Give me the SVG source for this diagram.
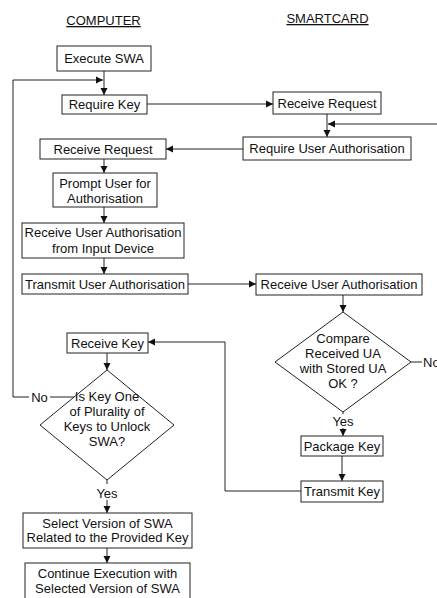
<svg xmlns="http://www.w3.org/2000/svg" width="437" height="598" viewBox="0 0 437 598">
<style>
text{font-family:"Liberation Sans",Arial,sans-serif;font-size:13px;fill:#111;text-anchor:middle}
.box{fill:#fff;stroke:#222;stroke-width:1}
.ln{fill:none;stroke:#222;stroke-width:1}
.hd{text-decoration:underline}
</style>
<defs>
<marker id="ah" markerWidth="8" markerHeight="8" refX="7" refY="4" orient="auto" markerUnits="userSpaceOnUse">
<path d="M0,0.5 L7,4 L0,7.5 z" fill="#111"/>
</marker>
</defs>
<rect width="437" height="598" fill="#fff"/>
<g id="headers">
<text x="103.5" y="25" class="hd">COMPUTER</text>
<text x="327.5" y="23" class="hd">SMARTCARD</text>
</g>
<g id="connectors">
<path class="ln" d="M104,71 V95" marker-end="url(#ah)"/>
<path class="ln" d="M74,397 H50"/>
<path class="ln" d="M29,397 H13 V80 H103" marker-end="url(#ah)"/>
<path class="ln" d="M147,104 H273" marker-end="url(#ah)"/>
<path class="ln" d="M327,114 V137" marker-end="url(#ah)"/>
<path class="ln" d="M437,124 H328" marker-end="url(#ah)"/>
<path class="ln" d="M243,149 H166" marker-end="url(#ah)"/>
<path class="ln" d="M104,159 V173" marker-end="url(#ah)"/>
<path class="ln" d="M104,207 V223" marker-end="url(#ah)"/>
<path class="ln" d="M104,258 V274" marker-end="url(#ah)"/>
<path class="ln" d="M188,284 H256" marker-end="url(#ah)"/>
<path class="ln" d="M343,295 V312" marker-end="url(#ah)"/>
<path class="ln" d="M411,362 H422"/>
<path class="ln" d="M343,412 V414"/>
<path class="ln" d="M343,428 V436" marker-end="url(#ah)"/>
<path class="ln" d="M342,456 V481" marker-end="url(#ah)"/>
<path class="ln" d="M301,491 H225 V342 H148" marker-end="url(#ah)"/>
<path class="ln" d="M107,353 V370" marker-end="url(#ah)"/>
<path class="ln" d="M107,480 V484"/>
<path class="ln" d="M107,500 V513" marker-end="url(#ah)"/>
<path class="ln" d="M107,548 V563" marker-end="url(#ah)"/>
<text x="39.5" y="401.5">No</text>
<text x="423" y="366.5" style="text-anchor:start">No</text>
<text x="343" y="425.5">Yes</text>
<text x="107" y="497.5">Yes</text>
</g>
<g id="execute-swa"><rect class="box" x="57" y="46" width="94" height="25"/><text x="104" y="63">Execute SWA</text></g>
<g id="require-key"><rect class="box" x="62" y="95" width="85" height="19"/><text x="104.5" y="109">Require Key</text></g>
<g id="receive-request-sc"><rect class="box" x="273" y="92" width="108" height="22"/><text x="327" y="107.5">Receive Request</text></g>
<g id="require-user-auth"><rect class="box" x="243" y="137" width="168" height="23"/><text x="327" y="153">Require User Authorisation</text></g>
<g id="receive-request-pc"><rect class="box" x="40" y="139" width="126" height="20"/><text x="103" y="153.5">Receive Request</text></g>
<g id="prompt-user"><rect class="box" x="53" y="173" width="104" height="34"/><text x="105" y="187.5">Prompt User for</text><text x="105" y="202.5">Authorisation</text></g>
<g id="receive-ua-input"><rect class="box" x="22" y="223" width="162" height="35"/><text x="103" y="237">Receive User Authorisation</text><text x="103" y="252.5">from Input Device</text></g>
<g id="transmit-ua"><rect class="box" x="22" y="274" width="166" height="20"/><text x="105" y="288.5">Transmit User Authorisation</text></g>
<g id="receive-ua-sc"><rect class="box" x="256" y="274" width="166" height="21"/><text x="339" y="289">Receive User Authorisation</text></g>
<g id="compare-ua"><path class="box" d="M343,312 L411,362 L343,412 L275,362 Z"/><text x="343" y="342.5">Compare</text><text x="343" y="357.5">Received UA</text><text x="343" y="372.5">with Stored UA</text><text x="343" y="387.5">OK ?</text></g>
<g id="package-key"><rect class="box" x="301" y="436" width="82" height="20"/><text x="342" y="450.5">Package Key</text></g>
<g id="transmit-key"><rect class="box" x="301" y="481" width="82" height="21"/><text x="342" y="496">Transmit Key</text></g>
<g id="receive-key"><rect class="box" x="67" y="333" width="81" height="20"/><text x="107.5" y="347.5">Receive Key</text></g>
<g id="is-key-valid"><path class="box" d="M107,370 L174,425 L107,480 L40,425 Z"/><text x="107" y="400.5">Is Key One</text><text x="107" y="415.5">of Plurality of</text><text x="107" y="430.5">Keys to Unlock</text><text x="107" y="445.5">SWA?</text></g>
<g id="select-version"><rect class="box" x="23" y="513" width="169" height="35"/><text x="107.5" y="527.5">Select Version of SWA</text><text x="107.5" y="542">Related to the Provided Key</text></g>
<g id="continue-execution"><rect class="box" x="25" y="563" width="165" height="40"/><text x="107.5" y="578">Continue Execution with</text><text x="107.5" y="593">Selected Version of SWA</text></g>
</svg>
